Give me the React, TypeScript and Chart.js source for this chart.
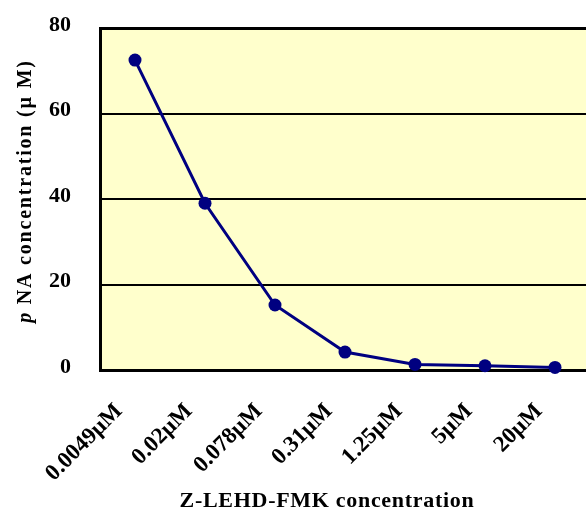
import React, { useEffect, useRef } from "react";
import { Chart, registerables } from "chart.js";
Chart.register(...registerables);

const categories = ["0.0049µM", "0.02µM", "0.078µM", "0.31µM", "1.25µM", "5µM", "20µM"];
const pnaValues = [72.5, 39.0, 15.2, 4.2, 1.3, 1.0, 0.6];
const yMin = 0;
const yMax = 80;
const yStep = 20;
const xTitle = "Z-LEHD-FMK concentration";
const yTitleItalic = "p";
const yTitleRest = " NA concentration (µ M)";

const FONT = '"Liberation Serif", "Times New Roman", serif';
const CW = 592;
const CH = 509;

export default function App() {
  const ref = useRef<HTMLCanvasElement | null>(null);

  useEffect(() => {
    const canvas = ref.current;
    if (!canvas) return;

    const bgPlugin = {
      id: "plotBg",
      beforeDraw(chart: any) {
        const { ctx, chartArea } = chart;
        ctx.save();
        ctx.fillStyle = "#FFFFCC";
        ctx.fillRect(chartArea.left, chartArea.top, chartArea.right - chartArea.left, chartArea.bottom - chartArea.top);
        ctx.restore();
      },
    };

    const titlePlugin = {
      id: "titles",
      afterDraw(chart: any) {
        const ctx = chart.ctx as CanvasRenderingContext2D;
        ctx.save();
        ctx.fillStyle = "#000";
        // x title
        ctx.font = `bold 22px ${FONT}`;
        (ctx as any).letterSpacing = "0.7px";
        ctx.textAlign = "center";
        ctx.textBaseline = "alphabetic";
        ctx.fillText(xTitle, 327, 507);
        // y title
        (ctx as any).letterSpacing = "1.8px";
        ctx.translate(31, 191);
        ctx.rotate(-Math.PI / 2);
        ctx.textAlign = "left";
        ctx.font = `italic bold 20px ${FONT}`;
        const w1 = ctx.measureText(yTitleItalic).width;
        ctx.font = `bold 20px ${FONT}`;
        const w2 = ctx.measureText(yTitleRest).width;
        const start = -(w1 + w2) / 2;
        ctx.font = `italic bold 20px ${FONT}`;
        ctx.fillText(yTitleItalic, start, 0);
        ctx.font = `bold 20px ${FONT}`;
        ctx.fillText(yTitleRest, start + w1, 0);
        ctx.restore();
      },
    };

    const chart = new Chart(canvas, {
      type: "line",
      data: {
        labels: categories,
        datasets: [
          {
            data: pnaValues,
            borderColor: "#000080",
            backgroundColor: "#000080",
            pointBackgroundColor: "#000080",
            pointBorderColor: "#000080",
            borderWidth: 3,
            pointRadius: 6.5,
            pointBorderWidth: 0,
            tension: 0,
            fill: false,
            clip: false as any,
          },
        ],
      },
      options: {
        responsive: false,
        animation: false,
        devicePixelRatio: 1,
        layout: { autoPadding: false, padding: { top: 28, right: 2, left: 0, bottom: 0 } },
        plugins: { legend: { display: false }, tooltip: { enabled: false }, title: { display: false } },
        scales: {
          x: {
            type: "category",
            offset: true,
            grid: { display: false, drawTicks: false },
            border: { display: true, color: "#000", width: 3 },
            ticks: {
              autoSkip: false,
              maxRotation: 45,
              minRotation: 45,
              padding: 28,
              labelOffset: -16,
              color: "#000",
              font: { family: FONT, weight: "bold", size: 23 },
            },
            afterFit: (s: any) => {
              s.height = CH - 370;
              s.paddingLeft = 0;
              s.paddingRight = 0;
            },
          },
          y: {
            min: yMin,
            max: yMax,
            ticks: {
              stepSize: yStep,
              padding: 29,
              labelOffset: -3,
              color: "#000",
              font: { family: FONT, weight: "bold", size: 22 },
            },
            grid: {
              color: "#000",
              lineWidth: (c: any) => (c.tick && c.tick.value === yMax ? 3 : 2),
              drawTicks: false,
            },
            border: { display: true, color: "#000", width: 3 },
            afterFit: (s: any) => {
              s.width = 100;
              s.paddingTop = 0;
              s.paddingBottom = 0;
            },
          },
        },
      },
      plugins: [bgPlugin, titlePlugin],
    });

    return () => chart.destroy();
  }, []);

  return (
    <div style={{ position: "fixed", left: 0, top: 0, width: 586, height: 509, overflow: "hidden", background: "#fff" }}>
      <canvas ref={ref} width={CW} height={CH} style={{ display: "block", width: CW, height: CH }} />
    </div>
  );
}
